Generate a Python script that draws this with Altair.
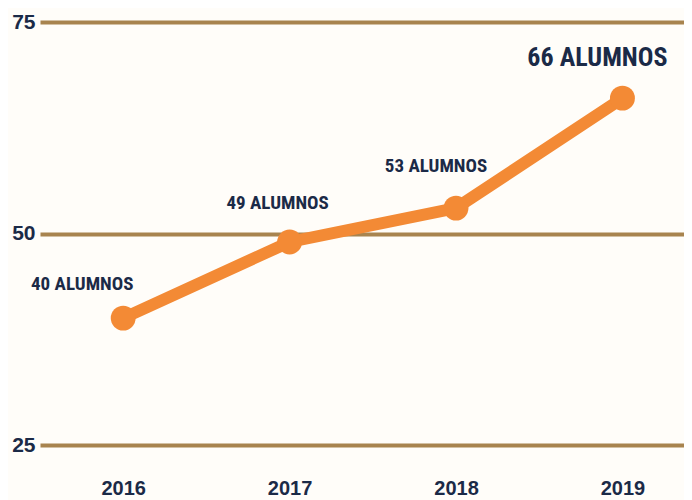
import altair as alt
import pandas as pd

years = [2016, 2017, 2018, 2019]
values = [40, 49, 53, 66]
labels = ["40 ALUMNOS", "49 ALUMNOS", "53 ALUMNOS", "66 ALUMNOS"]
y_ticks = [25, 50, 75]

df = pd.DataFrame({"year": years, "value": values, "label": labels})

NAVY = "#1b2a47"
ORANGE = "#f38a35"
GRID = "#a8844f"
BG = "#fffdf9"
COND = "Liberation Sans Narrow, Roboto Condensed, Arial Narrow, sans-serif"

x = alt.X("year:Q", scale=alt.Scale(domain=[2015.5, 2019.37], nice=False, zero=False),
          axis=alt.Axis(values=years, format="d", grid=False, domain=False, ticks=False,
                        labelPadding=33, labelFont="Liberation Sans", labelFontWeight="bold",
                        labelFontSize=20, labelColor=NAVY, title=None))
y = alt.Y("value:Q", scale=alt.Scale(domain=[25, 75], nice=False, zero=False),
          axis=alt.Axis(values=y_ticks, grid=True, gridColor=GRID, gridWidth=4, gridOpacity=1,
                        domain=False, ticks=False, labelPadding=5,
                        labelFont="Liberation Sans", labelFontWeight="bold",
                        labelFontSize=21, labelColor=NAVY, title=None))

base = alt.Chart(df)
line = base.mark_line(color=ORANGE, strokeWidth=12, strokeCap="round").encode(x=x, y=y)
pts = base.mark_circle(color=ORANGE, size=620, opacity=1).encode(x=x, y=y)

offsets = {2016: (-41, -34, 19), 2017: (-12, -39, 19), 2018: (-20, -42, 19), 2019: (-25, -40, 26)}
texts = []
for yr, (dx, dy, fs) in offsets.items():
    texts.append(
        base.transform_filter(alt.datum.year == yr)
        .mark_text(dx=dx, dy=dy, font=COND, fontWeight="bold", fontSize=fs, color=NAVY,
                   align="center", baseline="middle")
        .encode(x=alt.X("year:Q"), y=alt.Y("value:Q"), text="label:N")
    )

chart = alt.layer(line, pts, *texts).properties(
    width=644, height=423,
    autosize=alt.AutoSizeParams(type="none"),
    padding={"left": 32, "top": 14, "right": 0, "bottom": 55},
    background=BG,
).configure_view(stroke=None)

chart.save("out.html", embed_options={"renderer": "svg", "actions": False})
